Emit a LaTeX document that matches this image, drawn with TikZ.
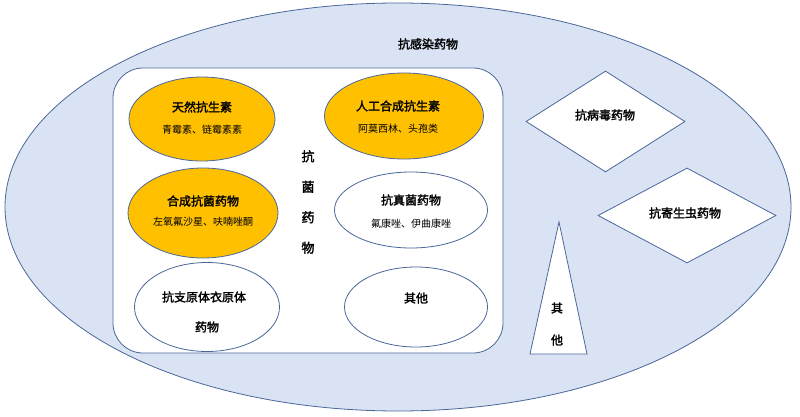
\documentclass[tikz,border=0pt]{standalone}
\usepackage{fontspec}
\setmainfont{Noto Sans CJK SC}[AutoFakeBold=2]
\usetikzlibrary{shapes.geometric}
\definecolor{edge}{HTML}{4A679A}
\definecolor{bg}{HTML}{DAE3F3}
\definecolor{gold}{HTML}{FFC000}
\tikzset{
  outline/.style={draw=edge, line width=0.8pt, inner sep=0pt},
  oval/.style={outline, ellipse},
  goldoval/.style={oval, fill=gold},
  whiteoval/.style={oval, fill=white},
  rhomb/.style={outline, diamond, fill=white},
  lbl/.style={inner sep=0pt, font=\fontsize{12}{14}\selectfont\bfseries},
  sub/.style={inner sep=0pt, font=\fontsize{10}{12}\selectfont},
}
\begin{document}
\begin{tikzpicture}[x=1pt,y=-1pt]
\useasboundingbox (0,0) rectangle (800,417);
\node[oval, fill=bg, minimum width=786, minimum height=408] (outer) at (398,207) {};
\node[lbl] (title) at (428,44) {抗感染药物};
\node[outline, fill=white, rectangle, rounded corners=30pt, minimum width=390, minimum height=285] (box) at (308,210.5) {};

\node[goldoval, minimum width=146, minimum height=84] (e1) at (202,119) {};
\node[lbl] (e1a) at (202,107) {天然抗生素};
\node[sub] (e1b) at (202,130) {青霉素、链霉素素};

\node[goldoval, minimum width=159, minimum height=86] (e2) at (404,116) {};
\node[lbl] (e2a) at (398,106) {人工合成抗生素};
\node[sub] (e2b) at (398,129) {阿莫西林、头孢类};

\node[goldoval, minimum width=150, minimum height=90] (e3) at (203,213) {};
\node[lbl] (e3a) at (203,201) {合成抗菌药物};
\node[sub] (e3b) at (203,222) {左氧氟沙星、呋喃唑酮};

\node[whiteoval, minimum width=153, minimum height=76] (e4) at (411,210) {};
\node[lbl] (e4a) at (411,200) {抗真菌药物};
\node[sub] (e4b) at (411,224) {氟康唑、伊曲康唑};

\node[whiteoval, minimum width=145, minimum height=89] (e5) at (207,307) {};
\node[lbl] (e5a) at (204,297) {抗支原体衣原体};
\node[lbl] (e5b) at (207,327) {药物};

\node[whiteoval, minimum width=143, minimum height=80] (e6) at (416,307) {};
\node[lbl] (e6a) at (416,298) {其他};

\node[inner sep=0pt, align=center, font=\fontsize{13}{30.5}\selectfont\bfseries] (vert) at (308,202) {抗\\菌\\药\\物};

\node[rhomb, minimum width=159, minimum height=101] (d1) at (605.5,121.5) {};
\node[lbl] (d1a) at (605,115) {抗病毒药物};
\node[rhomb, minimum width=178, minimum height=95] (d2) at (687,215.5) {};
\node[lbl] (d2a) at (685,213) {抗寄生虫药物};

\coordinate (tA) at (559,222);
\coordinate (tB) at (530,354);
\coordinate (tC) at (587,354);
\draw[draw=edge, line width=0.8pt, fill=white] (tA) -- (tB) -- (tC) -- cycle;
\node[lbl] (t1) at (557,308) {其};
\node[lbl] (t2) at (557,340) {他};
\end{tikzpicture}
\end{document}
